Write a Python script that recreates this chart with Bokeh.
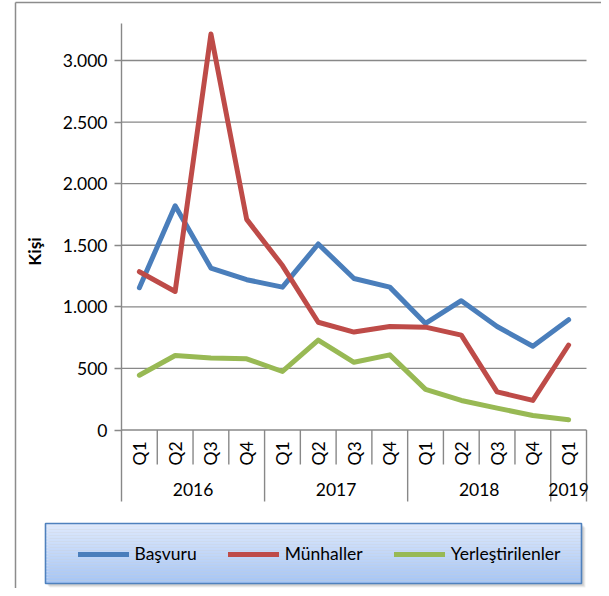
import math
from bokeh.plotting import figure
from bokeh.models import (LinearAxis, FixedTicker, CustomJSTickFormatter, Range1d,
                          Legend, LegendItem)
from bokeh.core.properties import value
from bokeh.embed import file_html
from bokeh.resources import INLINE

# ---------------- data ----------------
years = ["2016", "2016", "2016", "2016", "2017", "2017", "2017", "2017",
         "2018", "2018", "2018", "2018", "2019"]
quarters = ["Q1", "Q2", "Q3", "Q4", "Q1", "Q2", "Q3", "Q4",
            "Q1", "Q2", "Q3", "Q4", "Q1"]
basvuru = [1155, 1820, 1315, 1220, 1160, 1510, 1230, 1160, 865, 1050, 840, 680, 895]
munhaller = [1285, 1125, 3215, 1710, 1335, 875, 795, 840, 835, 770, 310, 240, 690]
yerlestirilenler = [445, 605, 585, 578, 475, 730, 550, 610, 330, 240, 178, 118, 83]
series_names = ["Başvuru", "Münhaller", "Yerleştirilenler"]
y_ticks = [0, 500, 1000, 1500, 2000, 2500, 3000]

# ---------------- layout constants (picture pixels) ----------------
W, H = 601, 588
ORIG_X, ORIG_Y = 0, 0
CAT_LEFT_PX = 121               # left edge of first category
CAT_W_PX = 465 / 13             # width of one category
ZERO_PX = 429.5                 # y of value 0
K = 369.5 / 3000                # pixels per unit

def px_to_x(px):
    return (px - CAT_LEFT_PX) / CAT_W_PX

def py_to_y(py):
    return (ZERO_PX - py) / K

FONT = "Lato"
n = len(quarters)
xs = [i + 0.5 for i in range(n)]

p = figure(width=W, height=H, output_backend="svg", toolbar_location=None,
           x_axis_type=None, y_axis_type=None,
           x_range=Range1d(px_to_x(ORIG_X), px_to_x(ORIG_X + W)),
           y_range=Range1d(py_to_y(ORIG_Y + H), py_to_y(ORIG_Y)),
           min_border=0)
p.outline_line_color = None
p.xgrid.visible = False
p.ygrid.visible = False
p.background_fill_color = "white"
p.border_fill_color = "white"

# outer chart border (left and top edges)
p.segment(x0=[px_to_x(15), px_to_x(15)], y0=[py_to_y(ORIG_Y + H), py_to_y(2)],
          x1=[px_to_x(15), px_to_x(ORIG_X + W)], y1=[py_to_y(2), py_to_y(2)],
          line_color="#8c8c8c", line_width=1.5)

# horizontal gridlines (limited to the category span)
p.segment(x0=[0] * len(y_ticks), y0=y_ticks, x1=[n] * len(y_ticks), y1=y_ticks,
          line_color="#888888", line_width=1.4)

# category separators below the axis
bounds = list(range(n + 1))
group_bounds = [0] + [i for i in range(1, n) if years[i] != years[i - 1]] + [n]
small = [b for b in bounds if b not in group_bounds]
p.segment(x0=small, y0=[0] * len(small), x1=small, y1=[py_to_y(464)] * len(small),
          line_color="#888888", line_width=1.4)
p.segment(x0=group_bounds, y0=[0] * len(group_bounds), x1=group_bounds,
          y1=[py_to_y(501)] * len(group_bounds), line_color="#888888", line_width=1.4)

# quarter labels (rotated)
p.text(x=xs, y=[py_to_y(453)] * n, text=quarters, angle=math.pi / 2,
       text_align="center", text_baseline="middle", text_font=value(FONT),
       text_font_size="17.5px", text_color="black")

# year labels
grp_names, grp_centers = [], []
for a, b in zip(group_bounds[:-1], group_bounds[1:]):
    grp_names.append(years[a])
    grp_centers.append((a + b) / 2)
p.text(x=grp_centers, y=[py_to_y(489)] * len(grp_centers), text=grp_names,
       text_align="center", text_baseline="middle", text_font=value(FONT),
       text_font_size="17.5px", text_color="black")

# y axis title
p.text(x=[px_to_x(34)], y=[py_to_y(251)], text=["Kişi"], angle=math.pi / 2,
       text_align="center", text_baseline="middle", text_font=value(FONT),
       text_font_size="17.5px", text_font_style="bold", text_color="black")

# y axis
yaxis = LinearAxis(fixed_location=0, bounds=(0, 3300),
                   ticker=FixedTicker(ticks=y_ticks),
                   formatter=CustomJSTickFormatter(code="""
                       if (tick >= 1000) {
                         const t = Math.floor(tick / 1000);
                         const r = String(Math.round(tick % 1000)).padStart(3, '0');
                         return t + '.' + r;
                       }
                       return String(tick);"""))
yaxis.axis_line_color = "#888888"
yaxis.axis_line_width = 1.4
yaxis.major_tick_line_color = "#888888"
yaxis.major_tick_line_width = 1.4
yaxis.major_tick_in = 0
yaxis.major_tick_out = 7
yaxis.minor_tick_line_color = None
yaxis.major_label_standoff = 7
yaxis.major_label_text_font = FONT
yaxis.major_label_text_font_size = "17.5px"
yaxis.major_label_text_color = "black"
p.add_layout(yaxis, "left")

# legend box: shadow, gradient fill, border
LX0, LX1, LY0, LY1 = 45, 581, 523, 583
for off, alpha in [(4, 0.12), (3, 0.15), (2, 0.18)]:
    p.quad(left=[px_to_x(LX0 + off)], right=[px_to_x(LX1 + off)],
           top=[py_to_y(LY0 + off)], bottom=[py_to_y(LY1 + off)],
           fill_color="#808080", fill_alpha=alpha, line_color=None)
top_c = (0xDE, 0xE9, 0xFC)
bot_c = (0xA6, 0xC5, 0xF4)
NB = 40
lefts, rights, tops, bottoms, cols = [], [], [], [], []
for i in range(NB):
    t = i / (NB - 1)
    c = tuple(round(top_c[j] + (bot_c[j] - top_c[j]) * t) for j in range(3))
    y_top = LY0 + (LY1 - LY0) * i / NB
    y_bot = LY0 + (LY1 - LY0) * (i + 1) / NB
    lefts.append(px_to_x(LX0)); rights.append(px_to_x(LX1))
    tops.append(py_to_y(y_top)); bottoms.append(py_to_y(y_bot) - 1)
    cols.append("#%02x%02x%02x" % c)
p.quad(left=lefts, right=rights, top=tops, bottom=bottoms, fill_color=cols, line_color=None)
p.quad(left=[px_to_x(LX0)], right=[px_to_x(LX1)], top=[py_to_y(LY0)], bottom=[py_to_y(LY1)],
       fill_color=None, line_color="#4f81bd", line_width=1.6)

# data lines
colors = ["#4a7ebb", "#be4b48", "#98b954"]
renderers = []
for vals, col in zip([basvuru, munhaller, yerlestirilenler], colors):
    r = p.line(xs, vals, line_color=col, line_width=5, line_join="round", line_cap="round")
    renderers.append(r)

# legend: glyph area starts at x=77.5, row centred at y=554
legend = Legend(items=[LegendItem(label=nm, renderers=[r]) for nm, r in zip(series_names, renderers)],
                orientation="horizontal", location=(77.5 - ORIG_X, ORIG_Y + H - 564),
                padding=0, margin=0,
                spacing=31, glyph_width=51, glyph_height=20, label_standoff=6,
                label_text_font=FONT, label_text_font_size="17.5px", label_text_color="black",
                background_fill_alpha=0, border_line_color=None)
p.add_layout(legend, "center")

open("out.html", "w").write(file_html(p, INLINE))
